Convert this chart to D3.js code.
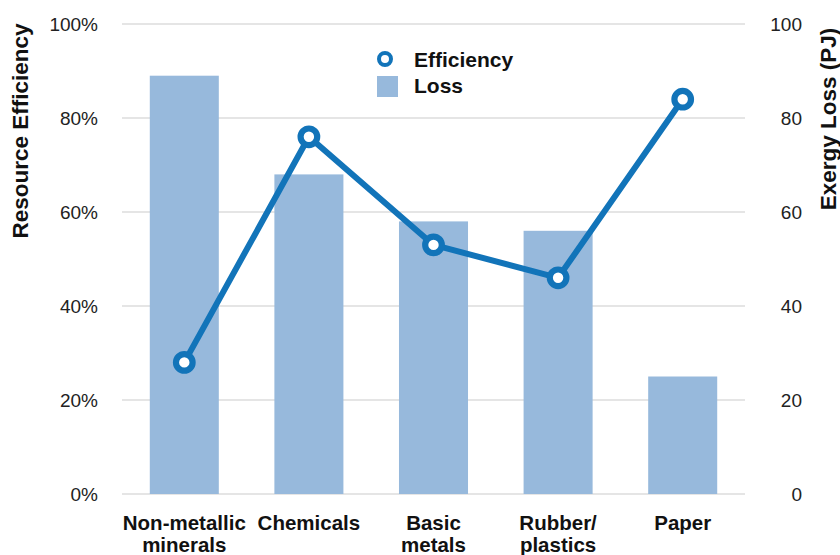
<!DOCTYPE html>
<html>
<head>
<meta charset="utf-8">
<script src="https://cdn.jsdelivr.net/npm/d3@7"></script>
<style>
  html, body { margin: 0; padding: 0; background: #fff; }
  svg { display: block; font-family: "Liberation Sans", Arial, Helvetica, sans-serif; }
</style>
</head>
<body>
<svg id="chart" width="840" height="555"></svg>
<script>
const categories = ["Non-metallic\nminerals", "Chemicals", "Basic\nmetals", "Rubber/\nplastics", "Paper"];
const lossValues = [89, 68, 58, 56, 25];          // Exergy Loss (PJ)
const efficiencyValues = [28, 76, 53, 46, 84];    // Resource Efficiency (%)
const leftTicks = [0, 20, 40, 60, 80, 100];
const rightTicks = [0, 20, 40, 60, 80, 100];

(function () {
const svg = d3.select("#chart");
const pLeft = 122, pRight = 745, pTop = 24, pBottom = 494;

const x = d3.scaleBand().domain(categories).range([pLeft, pRight])
  .paddingInner(0.446).paddingOuter(0.223);
const yL = d3.scaleLinear().domain([0, 100]).range([pBottom, pTop]);
const yR = d3.scaleLinear().domain([0, 100]).range([pBottom, pTop]);

const barColor = "#97b9dc";
const lineColor = "#1274b9";

// gridlines
svg.append("g").selectAll("line").data(leftTicks).join("line")
  .attr("x1", pLeft).attr("x2", pRight)
  .attr("y1", d => yL(d)).attr("y2", d => yL(d))
  .attr("stroke", "#dddddd").attr("stroke-width", 1.5);

// left axis
const gL = svg.append("g").attr("transform", `translate(${pLeft - 24},0)`)
  .call(d3.axisLeft(yL).tickValues(leftTicks).tickSize(0).tickPadding(0).tickFormat(d => d + "%"));
gL.select(".domain").remove();
gL.selectAll("text").attr("font-size", 19).attr("fill", "#222").attr("font-family", "Liberation Sans, Arial, sans-serif");

// right axis
const gR = svg.append("g").attr("transform", `translate(802,0)`)
  .call(d3.axisRight(yR).tickValues(rightTicks).tickSize(0).tickPadding(0));
gR.select(".domain").remove();
gR.selectAll("text").attr("font-size", 19).attr("fill", "#222").attr("text-anchor", "end")
  .attr("font-family", "Liberation Sans, Arial, sans-serif");

// bars
svg.append("g").selectAll("rect").data(lossValues).join("rect")
  .attr("x", (d, i) => x(categories[i]))
  .attr("width", x.bandwidth())
  .attr("y", d => yR(d))
  .attr("height", d => yR(0) - yR(d))
  .attr("fill", barColor);

// efficiency line
const line = d3.line()
  .x((d, i) => x(categories[i]) + x.bandwidth() / 2)
  .y(d => yL(d));
svg.append("path").datum(efficiencyValues)
  .attr("d", line).attr("fill", "none")
  .attr("stroke", lineColor).attr("stroke-width", 6).attr("stroke-linejoin", "round");

svg.append("g").selectAll("circle").data(efficiencyValues).join("circle")
  .attr("cx", (d, i) => x(categories[i]) + x.bandwidth() / 2)
  .attr("cy", d => yL(d))
  .attr("r", 8.3)
  .attr("fill", "#fff").attr("stroke", lineColor).attr("stroke-width", 6.2);

// category labels
const xl = svg.append("g").selectAll("text").data(categories).join("text")
  .attr("x", d => x(d) + x.bandwidth() / 2)
  .attr("y", 530)
  .attr("text-anchor", "middle")
  .attr("font-size", 20.5).attr("font-weight", "bold").attr("fill", "#111");
xl.each(function(d) {
  const parts = d.split("\n");
  const t = d3.select(this);
  parts.forEach((p, i) => {
    t.append("tspan").attr("x", x(d) + x.bandwidth() / 2).attr("dy", i === 0 ? 0 : 22).text(p);
  });
});

// axis titles
svg.append("text")
  .attr("transform", "translate(28,131) rotate(-90)")
  .attr("text-anchor", "middle")
  .attr("font-size", 22.5).attr("font-weight", "bold").attr("fill", "#111")
  .text("Resource Efficiency");
svg.append("text")
  .attr("transform", "translate(836,119) rotate(-90)")
  .attr("text-anchor", "middle")
  .attr("font-size", 22.5).attr("font-weight", "bold").attr("fill", "#111")
  .text("Exergy Loss (PJ)");

// legend
const lg = svg.append("g");
lg.append("circle").attr("cx", 385).attr("cy", 59).attr("r", 6)
  .attr("fill", "#fff").attr("stroke", lineColor).attr("stroke-width", 4);
lg.append("text").attr("x", 414).attr("y", 66.5)
  .attr("font-size", 21).attr("font-weight", "bold").attr("fill", "#111").text("Efficiency");
lg.append("rect").attr("x", 377).attr("y", 76).attr("width", 21).attr("height", 21).attr("fill", barColor);
lg.append("text").attr("x", 414).attr("y", 92.5)
  .attr("font-size", 21).attr("font-weight", "bold").attr("fill", "#111").text("Loss");
})();
</script>
</body>
</html>
